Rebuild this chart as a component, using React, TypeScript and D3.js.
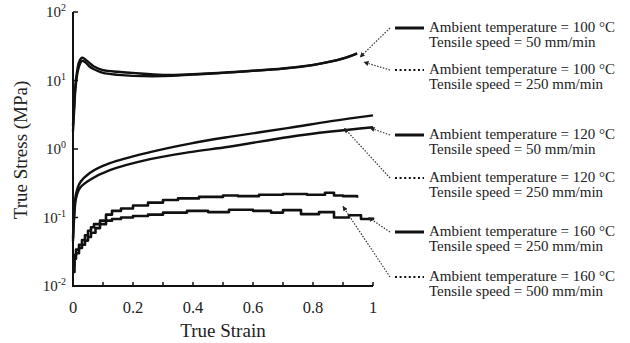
import { useEffect, useRef } from "react";
import * as d3 from "d3";

// strain values (x) and stress values (y, MPa)
const strain100 = [0, 0.004, 0.008, 0.013, 0.02, 0.03, 0.04, 0.055, 0.07, 0.1, 0.15, 0.2, 0.3, 0.4, 0.5, 0.6, 0.7, 0.8, 0.9, 0.947];
const stress100a = [2.2, 4.5, 8.5, 13, 18.5, 21.5, 20.5, 18, 16, 14.2, 13.4, 12.9, 12.1, 12.4, 13, 13.9, 15, 16.9, 21, 25];
const stress100b = [1.8, 3.8, 7.5, 11.5, 16, 19.3, 18.6, 16, 14.6, 12.9, 12.1, 11.7, 11.6, 12.2, 12.9, 13.8, 14.9, 16.8, 20.8, 24.6];

const strain120 = [0, 0.004, 0.01, 0.023, 0.057, 0.123, 0.257, 0.39, 0.52, 0.72, 0.86, 1.0];
const stress120a = [0.05, 0.12, 0.22, 0.32, 0.45, 0.62, 0.9, 1.2, 1.5, 2.03, 2.55, 3.1];
const stress120b = [0.045, 0.1, 0.19, 0.27, 0.355, 0.49, 0.71, 0.9, 1.08, 1.5, 1.8, 2.08];

const strain160a = [0, 0.005, 0.01, 0.02, 0.03, 0.04, 0.05, 0.06, 0.07, 0.09, 0.11, 0.13, 0.16, 0.2, 0.25, 0.3, 0.35, 0.42, 0.5, 0.55, 0.62, 0.7, 0.78, 0.84, 0.87, 0.9, 0.947];
const stress160a = [0.02, 0.028, 0.034, 0.04, 0.047, 0.055, 0.064, 0.072, 0.08, 0.09, 0.11, 0.125, 0.135, 0.15, 0.165, 0.18, 0.19, 0.2, 0.21, 0.205, 0.215, 0.22, 0.215, 0.23, 0.21, 0.205, 0.195];
const strain160b = [0, 0.005, 0.01, 0.02, 0.03, 0.04, 0.05, 0.06, 0.075, 0.09, 0.11, 0.13, 0.16, 0.2, 0.25, 0.3, 0.38, 0.45, 0.52, 0.6, 0.66, 0.7, 0.76, 0.82, 0.87, 0.92, 0.96, 1.0];
const stress160b = [0.016, 0.025, 0.03, 0.036, 0.04, 0.046, 0.052, 0.06, 0.07, 0.08, 0.09, 0.095, 0.1, 0.105, 0.11, 0.118, 0.125, 0.12, 0.13, 0.125, 0.118, 0.128, 0.112, 0.12, 0.1, 0.108, 0.095, 0.1];

const xTicks = [0, 0.2, 0.4, 0.6, 0.8, 1];
const yDecades = [-2, -1, 0, 1, 2];

const legendTemps = ["100", "100", "120", "120", "160", "160"];
const legendSpeeds = ["50", "250", "50", "250", "250", "500"];
const legendDotted = [false, true, false, true, false, true];
// arrow heads point at these (strain, stress) spots on the curves
const arrowStrain = [0.947, 0.96, 0.98, 0.895, 0.975, 0.89];
const arrowStress = [22, 18.5, 2.03, 2.0, 0.1, 0.145];

export default function App() {
    const ref = useRef<SVGSVGElement>(null);

    useEffect(() => {
        const svg = d3.select(ref.current);
        svg.selectAll("*").remove();

        const x = d3.scaleLinear().domain([0, 1]).range([73, 373]);
        const y = d3.scaleLog().domain([0.01, 100]).range([286, 12]);

        const font = "'Liberation Serif', 'Times New Roman', serif";

        svg.append("defs").append("marker")
            .attr("id", "head")
            .attr("viewBox", "0 0 10 10")
            .attr("refX", 9).attr("refY", 5)
            .attr("markerWidth", 5).attr("markerHeight", 5)
            .attr("markerUnits", "userSpaceOnUse")
            .attr("orient", "auto-start-reverse")
            .append("path").attr("d", "M0,0 L10,5 L0,10 z").attr("fill", "#222");

        // curves
        const series = [
            { xs: strain100, ys: stress100a, stepped: false },
            { xs: strain100, ys: stress100b, stepped: false },
            { xs: strain120, ys: stress120a, stepped: false },
            { xs: strain120, ys: stress120b, stepped: false },
            { xs: strain160a, ys: stress160a, stepped: true },
            { xs: strain160b, ys: stress160b, stepped: true },
        ];
        series.forEach(s => {
            const pts: [number, number][] = s.xs.map((v, i) => [x(v), y(s.ys[i])]);
            const gen = d3.line().curve(s.stepped ? d3.curveStepAfter : d3.curveCatmullRom.alpha(0.5));
            svg.append("path")
                .attr("d", gen(pts))
                .attr("fill", "none")
                .attr("stroke", "#111")
                .attr("stroke-width", s.stepped ? 2.6 : 2.4)
                .attr("stroke-linejoin", "round");
        });

        // axes
        const axis = svg.append("g").attr("stroke", "#111").attr("stroke-width", 2).attr("fill", "none");
        axis.append("path").attr("d", `M${x(0)},${y(100)} V${y(0.01)} H${x(1)}`);
        d3.range(1, 11).forEach(i => {
            axis.append("line")
                .attr("x1", x(i / 10)).attr("x2", x(i / 10))
                .attr("y1", y(0.01)).attr("y2", y(0.01) - 4)
                .attr("stroke-width", 1.5);
        });
        yDecades.forEach(d => {
            axis.append("line")
                .attr("x1", x(0)).attr("x2", x(0) + 5)
                .attr("y1", y(Math.pow(10, d))).attr("y2", y(Math.pow(10, d)))
                .attr("stroke-width", 1.5);
        });

        // tick labels
        xTicks.forEach(t => {
            svg.append("text")
                .attr("x", x(t)).attr("y", 313)
                .attr("text-anchor", "middle")
                .attr("font-family", font).attr("font-size", 16.5)
                .attr("fill", "#222")
                .text(String(t));
        });
        yDecades.forEach(d => {
            const tx = svg.append("text")
                .attr("x", 66).attr("y", y(Math.pow(10, d)) + 5)
                .attr("text-anchor", "end")
                .attr("font-family", font).attr("font-size", 15)
                .attr("fill", "#222");
            tx.append("tspan").text("10");
            tx.append("tspan").attr("dy", -6).attr("font-size", 10).text(String(d));
        });

        svg.append("text")
            .attr("x", 223).attr("y", 337)
            .attr("text-anchor", "middle")
            .attr("font-family", font).attr("font-size", 19)
            .attr("fill", "#222")
            .text("True Strain");
        svg.append("text")
            .attr("transform", "translate(27,150) rotate(-90)")
            .attr("text-anchor", "middle")
            .attr("font-family", font).attr("font-size", 19)
            .attr("fill", "#222")
            .text("True Stress (MPa)");

        // legend
        const rowY = [28, 70, 135, 178, 232, 277];
        legendTemps.forEach((temp, i) => {
            const ly = rowY[i];
            svg.append("line")
                .attr("x1", 395).attr("x2", 424)
                .attr("y1", ly).attr("y2", ly)
                .attr("stroke", "#111")
                .attr("stroke-width", legendDotted[i] ? 2 : 3)
                .attr("stroke-dasharray", legendDotted[i] ? "2,2.6" : null);
            const tx = svg.append("text")
                .attr("font-family", font).attr("font-size", 15)
                .attr("fill", "#222");
            tx.append("tspan").attr("x", 429).attr("y", ly + 4)
                .text(`Ambient temperature = ${temp} \u00B0C`);
            tx.append("tspan").attr("x", 429).attr("y", ly + 19)
                .text(`Tensile speed = ${legendSpeeds[i]} mm/min`);

            svg.append("line")
                .attr("x1", 390).attr("y1", ly)
                .attr("x2", x(arrowStrain[i]) + 3).attr("y2", y(arrowStress[i]))
                .attr("stroke", "#333")
                .attr("stroke-width", 1.2)
                .attr("stroke-dasharray", "1.5,1.5")
                .attr("marker-end", "url(#head)");
        });
    }, []);

    return (
        <svg ref={ref} width={630} height={343}
            style={{ position: "absolute", left: 0, top: 0, background: "#fff" }} />
    );
}
